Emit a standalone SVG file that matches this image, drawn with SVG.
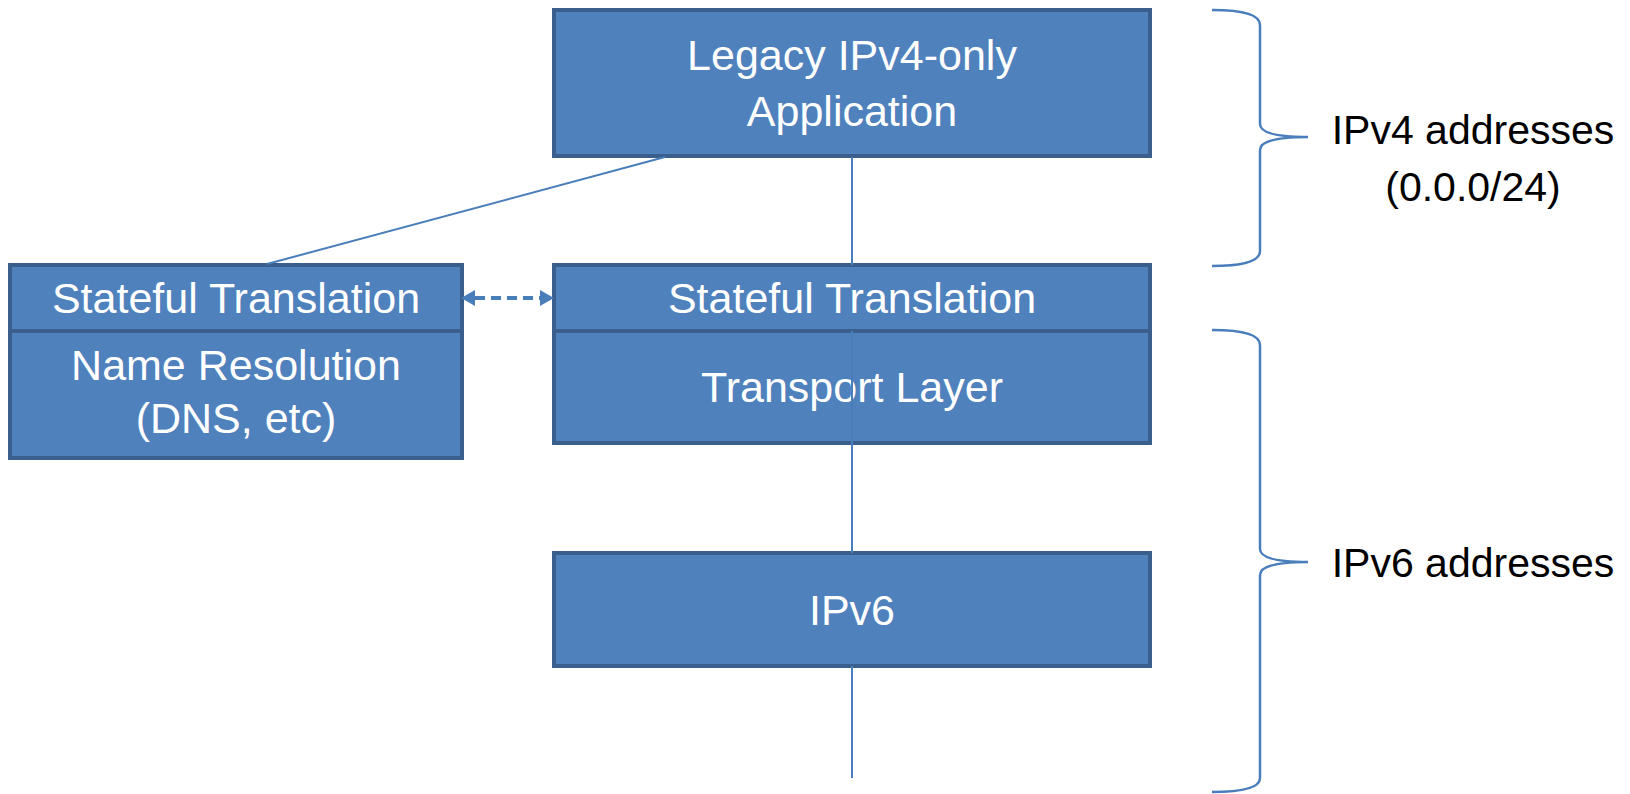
<svg xmlns="http://www.w3.org/2000/svg" width="1630" height="794" viewBox="0 0 1630 794">
<style>
.box{fill:#4f81bd;stroke:#3a5f8c;stroke-width:4}
.bt{font-family:"Liberation Sans",Arial,sans-serif;font-size:43px;fill:#ffffff;text-anchor:middle}
.lt{font-family:"Liberation Sans",Arial,sans-serif;font-size:41px;fill:#000000;text-anchor:middle}
.ln{stroke:#4a7ebb;stroke-width:2;fill:none}
.br{stroke:#4a7ebb;stroke-width:2.5;fill:none}
</style>
<defs>
<marker id="ah" viewBox="0 0 14 16" refX="4" refY="8" markerWidth="14" markerHeight="16" orient="auto-start-reverse" markerUnits="userSpaceOnUse">
<path d="M0,0 L14,8 L0,16 z" fill="#4a7ebb"/>
</marker>
</defs>
<g id="legacy-app">
<rect class="box" x="554" y="10" width="596" height="146"/>
<text class="bt" x="852" y="70">Legacy IPv4-only</text>
<text class="bt" x="852" y="126">Application</text>
</g>
<g id="left-stateful">
<rect class="box" x="10" y="265" width="452" height="66"/>
<text class="bt" x="236" y="313">Stateful Translation</text>
</g>
<g id="name-resolution">
<rect class="box" x="10" y="331" width="452" height="127"/>
<text class="bt" x="236" y="380">Name Resolution</text>
<text class="bt" x="236" y="433">(DNS, etc)</text>
</g>
<g id="right-stateful">
<rect class="box" x="554" y="265" width="596" height="66"/>
<text class="bt" x="852" y="313">Stateful Translation</text>
</g>
<g id="transport">
<rect class="box" x="554" y="331" width="596" height="112"/>
<text class="bt" x="852" y="402">Transport Layer</text>
</g>
<g id="ipv6">
<rect class="box" x="554" y="553" width="596" height="113"/>
<text class="bt" x="852" y="625">IPv6</text>
</g>
<g id="connectors">
<line class="ln" x1="665" y1="157" x2="267" y2="264"/>
<line class="ln" x1="852" y1="157" x2="852" y2="265"/>
<line class="ln" x1="852" y1="331" x2="852" y2="553"/>
<line class="ln" x1="852" y1="666" x2="852" y2="778"/>
<line x1="471" y1="298" x2="544" y2="298" stroke="#4a7ebb" stroke-width="4" stroke-dasharray="10,6" stroke-dashoffset="-4" marker-start="url(#ah)" marker-end="url(#ah)"/>
</g>
<g id="ipv4-brace">
<path class="br" d="M1212,10 Q1260,10 1260,25 L1260,124 Q1260,137 1308,137 Q1260,137 1260,150 L1260,251 Q1260,266 1212,266"/>
<text class="lt" x="1473" y="144">IPv4 addresses</text>
<text class="lt" x="1473" y="201">(0.0.0/24)</text>
</g>
<g id="ipv6-brace">
<path class="br" d="M1212,330 Q1260,330 1260,345 L1260,549 Q1260,562 1308,562 Q1260,562 1260,575 L1260,778 Q1260,792 1212,792"/>
<text class="lt" x="1473" y="577">IPv6 addresses</text>
</g>
</svg>
